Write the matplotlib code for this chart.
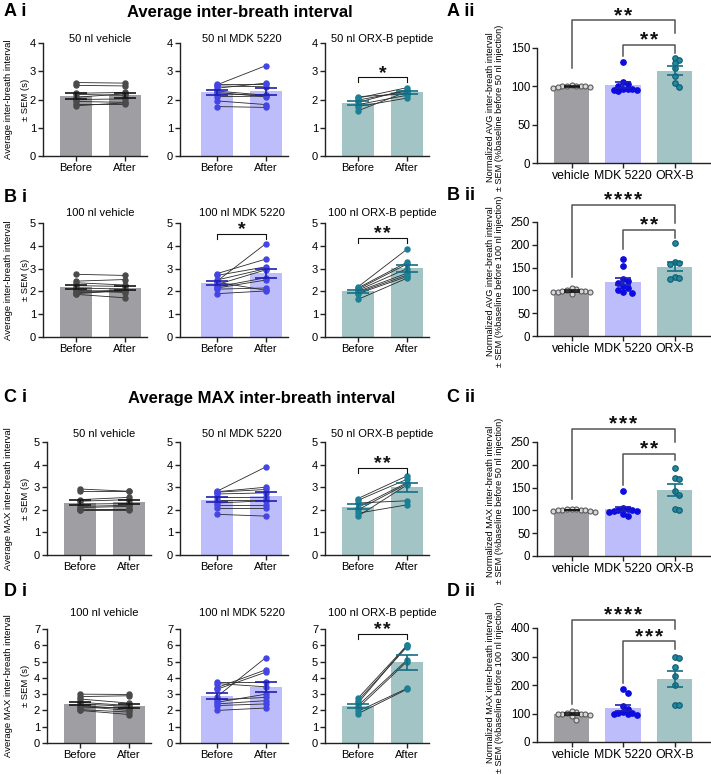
import numpy as np
import matplotlib
matplotlib.use('Agg')
import matplotlib.pyplot as plt
from matplotlib import font_manager

_names = {f.name for f in font_manager.fontManager.ttflist}
NARROW = 'Liberation Sans Narrow' if 'Liberation Sans Narrow' in _names else 'Liberation Sans'
HAS_NARROW = NARROW == 'Liberation Sans Narrow'
plt.rcParams['font.family'] = ['Liberation Sans', 'DejaVu Sans']

# ---------------- data ----------------
groups = ['vehicle', 'MDK 5220', 'ORX-B']
paired_ticks = ['Before', 'After']

# A i : average inter-breath interval, 50 nl (s)
a_veh_before = [2.60, 2.50, 2.22, 2.18, 2.08, 2.00, 1.93, 1.85, 1.78]
a_veh_after = [2.58, 2.48, 2.25, 2.15, 2.20, 2.02, 1.90, 1.85, 1.88]
a_mdk_before = [2.52, 2.55, 2.48, 2.40, 2.30, 2.25, 2.20, 2.10, 1.95, 1.75]
a_mdk_after = [3.20, 2.55, 2.45, 2.58, 2.15, 2.10, 2.15, 2.12, 1.82, 1.72]
a_orx_before = [2.10, 2.05, 1.98, 1.90, 1.82, 1.75, 1.60]
a_orx_after = [2.20, 2.42, 2.30, 2.35, 2.15, 2.05, 2.28]

# B i : average inter-breath interval, 100 nl (s)
b_veh_before = [2.75, 2.45, 2.38, 2.25, 2.15, 2.05, 2.00, 1.95, 1.90, 1.87]
b_veh_after = [2.70, 2.52, 2.28, 2.22, 2.10, 1.95, 2.05, 2.00, 2.05, 1.72]
b_mdk_before = [2.45, 2.78, 2.70, 2.50, 2.30, 2.20, 2.15, 2.10, 2.40, 1.90]
b_mdk_after = [4.10, 3.42, 3.08, 3.00, 2.95, 2.60, 2.50, 2.15, 2.05, 2.02]
b_orx_before = [2.20, 2.15, 2.10, 2.05, 2.00, 1.95, 1.90, 1.65]
b_orx_after = [3.85, 3.28, 3.20, 3.00, 2.80, 2.72, 2.65, 2.58]

# C i : average MAX inter-breath interval, 50 nl (s)
c_veh_before = [2.92, 2.82, 2.45, 2.38, 2.25, 2.15, 2.10, 2.05, 2.00, 1.98]
c_veh_after = [2.82, 2.82, 2.55, 2.45, 2.28, 2.20, 2.15, 2.05, 2.00, 2.02]
c_mdk_before = [2.82, 2.80, 2.78, 2.70, 2.55, 2.45, 2.30, 2.20, 2.10, 1.80]
c_mdk_after = [3.90, 3.00, 2.90, 2.75, 2.55, 2.45, 2.40, 2.20, 2.10, 1.72]
c_orx_before = [2.50, 2.42, 2.30, 2.10, 2.00, 1.85, 1.72]
c_orx_after = [3.50, 3.35, 2.40, 3.20, 3.15, 2.22, 3.10]

# D i : average MAX inter-breath interval, 100 nl (s)
d_veh_before = [3.00, 2.85, 2.70, 2.50, 2.40, 2.30, 2.25, 2.15, 2.05, 2.00]
d_veh_after = [2.98, 2.90, 2.45, 2.30, 2.25, 2.10, 2.00, 2.20, 1.90, 1.75]
d_mdk_before = [3.75, 3.65, 3.40, 3.30, 2.85, 2.65, 2.50, 2.40, 2.30, 2.00]
d_mdk_after = [3.75, 3.45, 4.50, 4.35, 5.25, 2.80, 3.00, 2.60, 2.40, 2.15]
d_orx_before = [2.75, 2.60, 2.45, 2.30, 2.15, 1.95, 1.80]
d_orx_after = [6.00, 5.90, 6.00, 5.10, 5.00, 3.35, 3.30]

# ii panels : normalized (% baseline)
a_norm_veh = [100, 102, 101, 99, 101, 98, 100, 99, 100]
a_norm_mdk = [132, 106, 103, 101, 97, 96, 95, 95, 94, 96]
a_norm_orx = [137, 134, 131, 124, 113, 104, 99]
b_norm_veh = [98, 97, 99, 96, 100, 103, 106, 92, 97, 99]
b_norm_mdk = [168, 153, 126, 120, 117, 109, 105, 100, 97, 95]
b_norm_orx = [203, 162, 160, 157, 130, 127, 125]
c_norm_veh = [101, 103, 102, 100, 104, 98, 97, 99, 101, 100]
c_norm_mdk = [142, 106, 103, 101, 100, 99, 98, 97, 92, 88]
c_norm_orx = [194, 172, 168, 143, 134, 104, 100]
d_norm_veh = [102, 100, 98, 95, 92, 105, 110, 100, 98, 76]
d_norm_mdk = [185, 172, 128, 116, 104, 102, 101, 100, 98, 94]
d_norm_orx = [300, 293, 262, 233, 200, 131, 130]

titles_50 = ['50 nl vehicle', '50 nl MDK 5220', '50 nl ORX-B peptide']
titles_100 = ['100 nl vehicle', '100 nl MDK 5220', '100 nl ORX-B peptide']
sig_a = [None, None, '*']
sig_b = [None, '*', '**']
sig_c = [None, None, '**']
sig_d = [None, None, '**']
sig_a2 = ['**', '**']
sig_b2 = ['****', '**']
sig_c2 = ['***', '**']
sig_d2 = ['****', '***']

# ---------------- style ----------------
BAR = ['#9e9ea3', '#bdbdfc', '#a2c4c4']
PT = ['#4a4a4a', '#4545e4', '#1b7f95']
ERR = ['#151515', '#1e1eb0', '#136e84']
PT2_FACE = ['#d8d8d8', '#0c0ce0', '#2287a0']
PT2_EDGE = ['#5a5a5a', '#0c0ce0', '#0f5b6c']

W, H = 711, 775
fig = plt.figure(figsize=(W / 100, H / 100), dpi=100)

TICK_FS = 9.2 if HAS_NARROW else 8.0
TITLE_FS = 9.2 if HAS_NARROW else 8.0
FAM = [NARROW, 'DejaVu Sans']


def add_ax(left, top, right, bottom):
    return fig.add_axes([left / W, 1 - bottom / H, (right - left) / W, (bottom - top) / H])


def ftext(x, y, s, **kw):
    return fig.text(x / W, 1 - y / H, s, **kw)


def style_ax(ax):
    for s in ('top', 'right'):
        ax.spines[s].set_visible(False)
    for s in ('left', 'bottom'):
        ax.spines[s].set_linewidth(1.0)
        ax.spines[s].set_color('#222222')
    ax.tick_params(axis='both', length=3.5, width=1.0, color='#222222', pad=1.5)


def stars(ax, x, y, s, fs=14, gap_pt=6.8, dy_pt=3.0):
    n = len(s)
    for i in range(n):
        dx = (i - (n - 1) / 2) * gap_pt
        ax.annotate('*', xy=(x, y), xytext=(dx, dy_pt), textcoords='offset points',
                    ha='center', va='center', fontsize=fs, fontweight='bold',
                    family='Liberation Sans', annotation_clip=False, color='#111111')


def paired_panel(ax, before, after, k, ymax, sig, sig_y, ml_px, unit_px=49.0):
    before = np.asarray(before, float)
    after = np.asarray(after, float)
    ax.set_xlim(-ml_px / unit_px, 1 + 22 / unit_px)
    ax.set_ylim(0, ymax)
    means = [before.mean(), after.mean()]
    sems = [before.std(ddof=1) / np.sqrt(len(before)), after.std(ddof=1) / np.sqrt(len(after))]
    ax.bar([0, 1], means, width=0.67, color=BAR[k], zorder=1)
    for b, a in zip(before, after):
        ax.plot([0, 1], [b, a], color='#2a2a2a', lw=0.6, zorder=2)
    ax.plot(np.zeros(len(before)), before, 'o', ms=3.6, color=PT[k], zorder=3)
    ax.plot(np.ones(len(after)), after, 'o', ms=3.6, color=PT[k], zorder=3)
    ax.errorbar([0, 1], means, yerr=sems, fmt='none', ecolor=ERR[k], elinewidth=1.2,
                capsize=8, capthick=1.2, zorder=4)
    style_ax(ax)
    ax.set_xticks([0, 1])
    ax.set_xticklabels(paired_ticks, fontsize=TICK_FS, family=FAM)
    ax.set_yticks(np.arange(0, ymax + 1, 1))
    ax.set_yticklabels([str(v) for v in range(0, ymax + 1)], fontsize=TICK_FS, family=FAM)
    if sig:
        h = ax.get_ylim()[1] / ax.bbox.height * 5
        ax.plot([0, 0, 1, 1], [sig_y - h, sig_y, sig_y, sig_y - h], color='#111111', lw=0.8,
                clip_on=False, zorder=5)
        stars(ax, 0.5, sig_y, sig)


def swarm_offsets(vals, px_per_unit, unit_px, step=4.6, dmin=4.6):
    vals = np.asarray(vals, float)
    ys = vals * px_per_unit
    cands = [0.0]
    for m in range(1, 25):
        cands += [m * step, -m * step]
    placed = []
    offs = np.zeros(len(vals))
    for i in np.argsort(-vals):
        for c in cands:
            if all((c - px) ** 2 + (ys[i] - py) ** 2 >= dmin ** 2 for px, py in placed):
                offs[i] = c
                placed.append((c, ys[i]))
                break
    return offs / unit_px


def group_panel(ax, datasets, ymax, ystep, brackets, sigs, height_px, unit_px=51.5):
    ax.set_xlim(-34.5 / unit_px, 2 + 35.5 / unit_px)
    ax.set_ylim(0, ymax)
    ppu = height_px / ymax
    for k, vals in enumerate(datasets):
        vals = np.asarray(vals, float)
        m = vals.mean()
        se = vals.std(ddof=1) / np.sqrt(len(vals))
        ax.bar(k, m, width=0.68, color=BAR[k], zorder=1)
        off = swarm_offsets(vals, ppu, unit_px)
        ax.plot(k + off, vals, 'o', ms=4.0 if k else 3.6, mfc=PT2_FACE[k], mec=PT2_EDGE[k],
                mew=0.8, ls='none', zorder=3)
        ax.errorbar([k], [m], yerr=[se], fmt='none', ecolor=ERR[k], elinewidth=1.2,
                    capsize=6, capthick=1.2, zorder=4)
    style_ax(ax)
    ax.set_xticks([0, 1, 2])
    ax.set_xticklabels(groups, fontsize=TICK_FS + 0.8, family=FAM)
    yt = np.arange(0, ymax + 1, ystep)
    ax.set_yticks(yt)
    ax.set_yticklabels([str(int(v)) for v in yt], fontsize=TICK_FS + 0.3, family=FAM)
    for (x1, x2, yb, yl, yr), s in zip(brackets, sigs):
        ax.plot([x1, x1, x2, x2], [yl, yb, yb, yr], color='#555555', lw=1.1, clip_on=False, zorder=5)
        stars(ax, (x1 + x2) / 2, yb, s, fs=15, gap_pt=7.0, dy_pt=3.6)


# ---------------- left (i) panels ----------------
rows = [
    dict(top=43, bottom=156, tb=42, ymax=4, titles=titles_50, sig=sig_a, sig_y=[0, 0, 2.78], L=[43, 180, 325],
         data=[(a_veh_before, a_veh_after), (a_mdk_before, a_mdk_after), (a_orx_before, a_orx_after)]),
    dict(top=223, bottom=337, tb=216, ymax=5, titles=titles_100, sig=sig_b, sig_y=[0, 4.52, 4.34], L=[43, 180, 325],
         data=[(b_veh_before, b_veh_after), (b_mdk_before, b_mdk_after), (b_orx_before, b_orx_after)]),
    dict(top=442, bottom=555, tb=437, ymax=5, titles=titles_50, sig=sig_c, sig_y=[0, 0, 3.87], L=[47, 180, 325],
         data=[(c_veh_before, c_veh_after), (c_mdk_before, c_mdk_after), (c_orx_before, c_orx_after)]),
    dict(top=629, bottom=743, tb=616, ymax=7, titles=titles_100, sig=sig_d, sig_y=[0, 0, 6.70], L=[47, 180, 325],
         data=[(d_veh_before, d_veh_after), (d_mdk_before, d_mdk_after), (d_orx_before, d_orx_after)]),
]
ml = [33, 37, 33]
for r in rows:
    for j in range(3):
        L = r['L'][j]
        R = L + ml[j] + 49 + 22
        ax = add_ax(L, r['top'], R, r['bottom'])
        paired_panel(ax, r['data'][j][0], r['data'][j][1], j, r['ymax'],
                     r['sig'][j], r['sig_y'][j], ml[j])
        ftext(L + ml[j] + 24.5, r['tb'], r['titles'][j], fontsize=TITLE_FS, family=FAM,
              ha='center', va='baseline')

# ---------------- right (ii) panels ----------------
right = [
    dict(top=48, bottom=163, ymax=150, step=50, data=[a_norm_veh, a_norm_mdk, a_norm_orx], sig=sig_a2,
         br=[(0, 2, 186, 124, 170), (1, 2, 154, 139, 143)]),
    dict(top=222, bottom=336, ymax=250, step=50, data=[b_norm_veh, b_norm_mdk, b_norm_orx], sig=sig_b2,
         br=[(0, 2, 288, 130, 248), (1, 2, 232, 190, 215)]),
    dict(top=442, bottom=556, ymax=250, step=50, data=[c_norm_veh, c_norm_mdk, c_norm_orx], sig=sig_c2,
         br=[(0, 2, 279, 125, 251), (1, 2, 224, 155, 211)]),
    dict(top=628, bottom=742, ymax=400, step=100, data=[d_norm_veh, d_norm_mdk, d_norm_orx], sig=sig_d2,
         br=[(0, 2, 429, 135, 398), (1, 2, 353, 206, 328)]),
]
for r in right:
    ax = add_ax(537, r['top'], 710, r['bottom'])
    group_panel(ax, r['data'], r['ymax'], r['step'], r['br'], r['sig'], r['bottom'] - r['top'])

# ---------------- labels ----------------
lab_kw = dict(fontsize=13, fontweight='bold', ha='left', va='center')
for s, x, y in [('A i', 4, 12), ('B i', 4, 197), ('C i', 4, 398), ('D i', 4, 592),
                ('A ii', 447, 12), ('B ii', 447, 196), ('C ii', 447, 398), ('D ii', 447, 592)]:
    ftext(x, y, s, **lab_kw)

ftext(240, 12, 'Average inter-breath interval', fontsize=12, fontweight='bold', ha='center', va='center')
ftext(262, 398, 'Average MAX inter-breath interval', fontsize=12, fontweight='bold', ha='center', va='center')

left_ylab = ['Average inter-breath interval\n± SEM (s)', 'Average inter-breath interval\n± SEM (s)',
             'Average MAX inter-breath interval\n± SEM (s)', 'Average MAX inter-breath interval\n± SEM (s)']
for r, s in zip(rows, left_ylab):
    ftext(17, (r['top'] + r['bottom']) / 2, s, rotation=90, fontsize=6.8, ha='center', va='center',
          multialignment='center', linespacing=2.0)

right_ylab = ['Normalized AVG inter-breath interval\n± SEM (%baseline before 50 nl injection)',
              'Normalized AVG inter-breath interval\n± SEM (%baseline before 100 nl injection)',
              'Normalized MAX inter-breath interval\n± SEM (%baseline before 50 nl injection)',
              'Normalized MAX inter-breath interval\n± SEM (%baseline before 100 nl injection)']
for r, s in zip(right, right_ylab):
    ftext(495, (r['top'] + r['bottom']) / 2 + 2, s, rotation=90, fontsize=6.6, ha='center', va='center',
          multialignment='center', linespacing=1.0)

fig.savefig('out.png', dpi=100)
